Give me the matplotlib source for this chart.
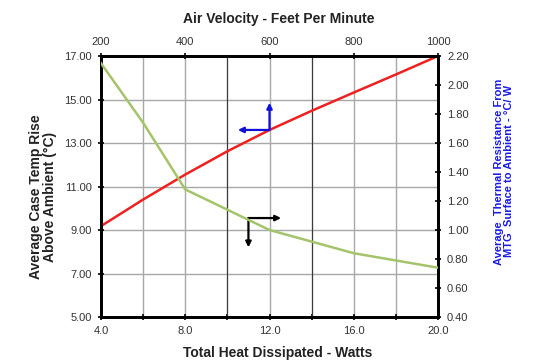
import numpy as np
import matplotlib
matplotlib.use("Agg")
import matplotlib.pyplot as plt

plt.rcParams['font.family'] = ['Liberation Sans', 'DejaVu Sans']

# red curve: bottom axis (watts) / left axis (deg C)
heat_w = [4, 6, 8, 10, 12, 14, 16, 18, 20]
temp_rise = [9.18, 10.40, 11.55, 12.62, 13.60, 14.48, 15.32, 16.15, 17.00]

# green curve: top axis (fpm) / right axis (C/W)
air_fpm = [200, 300, 400, 500, 600, 700, 800, 900, 1000]
therm_res = [2.15, 1.74, 1.28, 1.14, 1.00, 0.92, 0.84, 0.79, 0.74]

left_ticks = [5, 7, 9, 11, 13, 15, 17]
right_ticks = [0.4, 0.6, 0.8, 1.0, 1.2, 1.4, 1.6, 1.8, 2.0, 2.2]
bottom_ticks = [4, 8, 12, 16, 20]
top_ticks = [200, 400, 600, 800, 1000]

# axis-pointer arrows (corner, end of horizontal leg, end of vertical leg) in watts / deg C
blue_arrow = [(12.0, 13.60), (10.5, 13.60), (12.0, 14.85)]
black_arrow = [(11.0, 9.55), (12.55, 9.55), (11.0, 8.2)]

tick_col = '#333333'
fig = plt.figure(figsize=(5.39, 3.63), dpi=100)
ax = fig.add_axes([0.1874, 0.1267, 0.6252, 0.719])
axr = ax.twinx()
axt = axr.twiny()

ax.set_xlim(4, 20)
ax.set_ylim(5, 17)
axr.set_ylim(0.4, 2.2)
axt.set_xlim(200, 1000)

ax.set_xticks(bottom_ticks)
ax.set_xticks(np.arange(6, 20, 4), minor=True)
ax.set_xticklabels(['%.1f' % v for v in bottom_ticks])
ax.set_yticks(left_ticks)
ax.set_yticklabels(['%.2f' % v for v in left_ticks])
axr.set_yticks(right_ticks)
axr.set_yticklabels(['%.2f' % v for v in right_ticks])
axt.set_xticks(top_ticks)
axt.set_xticklabels([str(v) for v in top_ticks])

for a in (ax, axr, axt):
    a.tick_params(which='both', direction='inout', length=5, width=1.2,
                  labelsize=8, labelcolor=tick_col, color='black', pad=4)
    for s in a.spines.values():
        s.set_linewidth(1.8)

ax.grid(True, which='both', color='#a8a8a8', linewidth=1.0)
ax.set_axisbelow(True)
for x in [10, 14]:
    ax.axvline(x, color='#3a3a3a', linewidth=0.8, zorder=0.6)

ax.plot(heat_w, temp_rise, color='#ee2020', linewidth=1.8, zorder=3)
axt.plot(air_fpm, therm_res, color='#a4c46a', linewidth=1.8, zorder=3)

for pts, col in [(blue_arrow, '#1010dd'), (black_arrow, 'black')]:
    c, h, v = pts
    for end in (h, v):
        ax.annotate('', xy=end, xytext=c,
                    arrowprops=dict(arrowstyle='-|>', color=col, lw=1.6,
                                    shrinkA=0, shrinkB=0, mutation_scale=8),
                    zorder=5)

fig.text(0.518, 0.948, 'Air Velocity - Feet Per Minute', ha='center', va='center',
         fontsize=10, fontweight='bold', color='#222222')
fig.text(0.516, 0.027, 'Total Heat Dissipated - Watts', ha='center', va='center',
         fontsize=10, fontweight='bold', color='#222222')
fig.text(0.08, 0.457, 'Average Case Temp Rise\nAbove Ambient (\u00b0C)', ha='center',
         va='center', rotation=90, fontsize=10, fontweight='bold', color='#222222',
         linespacing=1.0)
fig.text(0.935, 0.528, 'Average  Thermal Resistance From\nMTG  Surface to Ambient - \u00b0C/ W',
         ha='center', va='center', rotation=90, fontsize=8, fontweight='bold',
         color='#1a1ae6', linespacing=1.0)

fig.savefig('out.png', dpi=100)
